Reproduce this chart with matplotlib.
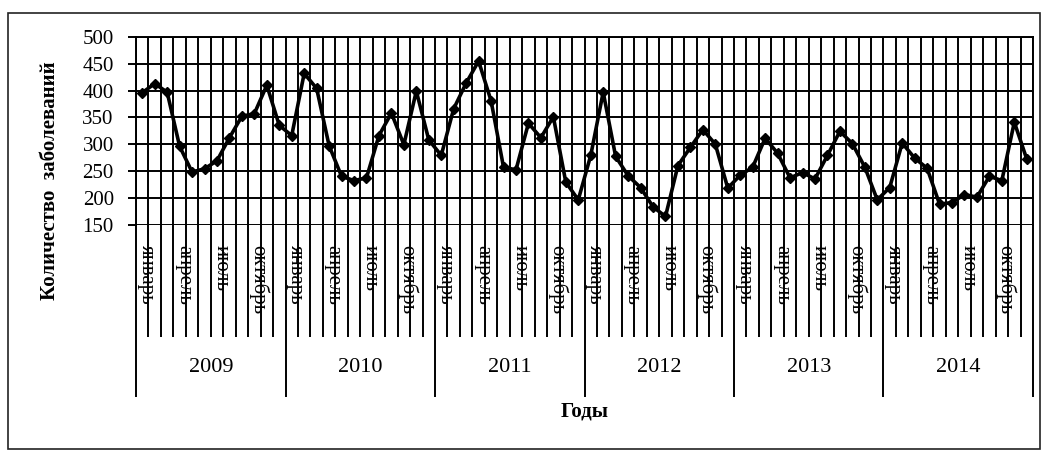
import matplotlib
matplotlib.use("Agg")
import matplotlib.pyplot as plt
from matplotlib.patches import Rectangle
import numpy as np

plt.rcParams['font.family'] = ['Liberation Serif', 'DejaVu Serif']

years = ['2009', '2010', '2011', '2012', '2013', '2014']
months = ['январь', 'февраль', 'март', 'апрель', 'май', 'июнь',
          'июль', 'август', 'сентябрь', 'октябрь', 'ноябрь', 'декабрь']
shown_months = ['январь', 'апрель', 'июль', 'октябрь']

cases_2009 = [396, 413, 397, 296, 248, 254, 269, 312, 352, 357, 410, 335]
cases_2010 = [316, 432, 404, 297, 240, 232, 237, 316, 358, 299, 399, 308]
cases_2011 = [279, 366, 414, 455, 381, 257, 252, 339, 312, 351, 229, 196]
cases_2012 = [279, 397, 277, 241, 219, 183, 165, 260, 294, 327, 300, 218]
cases_2013 = [242, 257, 311, 283, 237, 247, 235, 279, 324, 301, 257, 196]
cases_2014 = [219, 302, 274, 255, 188, 191, 206, 201, 240, 232, 341, 272]

cases = cases_2009 + cases_2010 + cases_2011 + cases_2012 + cases_2013 + cases_2014
n = len(cases)
x = np.arange(n)

fig = plt.figure(figsize=(10.48, 4.5), dpi=100)
fig.patch.set_facecolor('white')
fig.patches.append(Rectangle((8 / 1048, 1 - 449 / 450), 1032 / 1048, 436 / 450,
                             transform=fig.transFigure, fill=False,
                             edgecolor='#222222', linewidth=1.2))

ax = fig.add_axes([136 / 1048, 1 - 224.5 / 450, 897 / 1048, 187.5 / 450])
ax.set_xlim(-0.5, n - 0.5)
ax.set_ylim(150, 500)
ax.set_yticks(np.arange(150, 501, 50))
ax.set_xticks([])

grid_kw = dict(color='black', linewidth=1.4)
for yv in np.arange(150, 501, 50):
    ax.axhline(yv, zorder=1, **grid_kw)
for b in np.arange(-0.5, n, 1.0):
    ax.axvline(b, zorder=1, **grid_kw)

for side in ['top', 'right', 'bottom', 'left']:
    ax.spines[side].set_linewidth(1.4)
    ax.spines[side].set_color('black')
ax.spines['bottom'].set_visible(False)

ax.tick_params(axis='y', direction='out', length=6, width=1.4, pad=10,
               labelsize=15, colors='black')

ax.plot(x, cases, color='black', linewidth=2.6, marker='D', markersize=5,
        zorder=3, clip_on=False)

# category axis below the plot: month separators, month names, year blocks
xt = ax.get_xaxis_transform()
month_bounds = [b for b in np.arange(-0.5, n, 1.0) if (b + 0.5) % 12 != 0]
year_bounds = np.arange(-0.5, n + 0.5, 12)
ax.vlines(month_bounds, -0.6, 0, transform=xt, clip_on=False, **grid_kw)
ax.vlines(year_bounds, -0.92, 0, transform=xt, clip_on=False, **grid_kw)

for i in range(n):
    name = months[i % 12]
    if name in shown_months:
        ax.text(i + 0.3, -0.11, name, transform=xt, rotation=270,
                ha='center', va='top', fontsize=15)

for k, yr in enumerate(years):
    ax.text(k * 12 + 5.5, -0.76, yr, transform=xt, ha='center', va='center',
            fontsize=16)

fig.text(585 / 1048, 1 - 412 / 450, 'Годы', ha='center', va='center',
         fontsize=15, fontweight='bold')
fig.text(50 / 1048, 1 - 181 / 450, 'Количество  заболеваний', ha='center',
         va='center', rotation=90, fontsize=15, fontweight='bold')

fig.savefig('out.png', dpi=100)
